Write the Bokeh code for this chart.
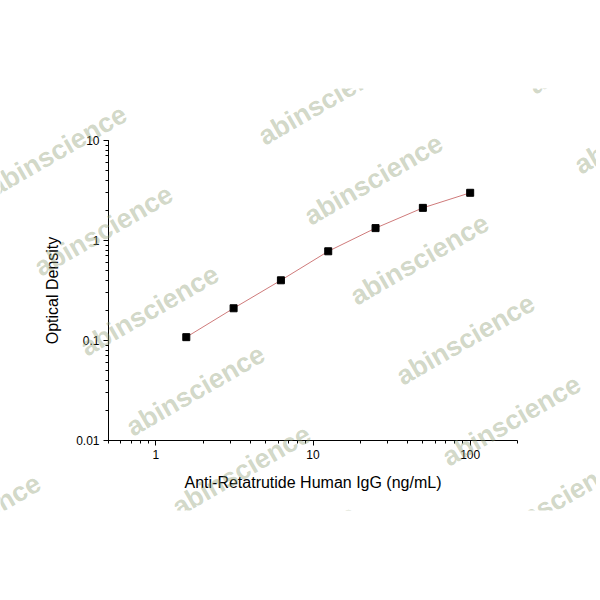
import math
from bokeh.plotting import figure
from bokeh.models import (Range1d, LogTicker, CustomJSTickFormatter, Label,
                          BoxAnnotation, ColumnDataSource)
from bokeh.embed import file_html
from bokeh.resources import INLINE

# ---- data ----
concentration = [1.5625, 3.125, 6.25, 12.5, 25, 50, 100]
optical_density = [0.108, 0.21, 0.40, 0.78, 1.33, 2.12, 3.0]

x_title = "Anti-Retatrutide Human IgG (ng/mL)"
y_title = "Optical Density"
watermark = "abinscience"

# axis extents (data units)
x_lo, x_hi = 0.5, 200
y_lo, y_hi = 0.01, 10

# ---- layout (pixels) ----
W, H = 596, 584
AX_L, AX_R = 108, 517     # where x_lo / x_hi land
AX_T, AX_B = 140, 440     # where y_hi / y_lo land

# watermark centres in canvas pixels (decoration, not data)
wm_centres = [(327, 99), (373, 179), (419, 259), (465, 339), (511, 420), (556, 500),
              (57, 150), (103, 230), (149, 310), (195, 390), (241, 470), (287, 550),
              (597, 48), (643, 128), (-29, 519)]

# the plotting frame covers the whole canvas; axes sit at fixed locations
pxd = (AX_R - AX_L) / math.log10(x_hi / x_lo)
pyd = (AX_B - AX_T) / math.log10(y_hi / y_lo)
xr = Range1d(10 ** (math.log10(x_lo) - AX_L / pxd), 10 ** (math.log10(x_hi) + (W - AX_R) / pxd))
yr = Range1d(10 ** (math.log10(y_lo) - (H - AX_B) / pyd), 10 ** (math.log10(y_hi) + AX_T / pyd))

p = figure(width=W, height=H, x_axis_type="log", y_axis_type="log",
           x_range=xr, y_range=yr,
           output_backend="svg", toolbar_location=None,
           min_border=0, min_border_left=0, min_border_right=0,
           min_border_top=0, min_border_bottom=0)
p.outline_line_color = None
p.xgrid.visible = False
p.ygrid.visible = False
p.background_fill_color = "white"
p.border_fill_color = "white"

src = ColumnDataSource(dict(x=concentration, y=optical_density))
p.line("x", "y", source=src, line_color="#cf7b7b", line_width=1)
p.scatter("x", "y", source=src, marker="square", size=7,
          fill_color="black", line_color="black")

# semi-transparent watermarks over the whole picture
for (cx, cy) in wm_centres:
    p.add_layout(Label(x=cx, y=cy, x_units="canvas", y_units="canvas",
                       text=watermark, angle=30, angle_units="deg",
                       text_align="center", text_baseline="middle",
                       text_font="Liberation Sans", text_font_style="bold",
                       text_font_size="27px", text_color="#8a9a70",
                       text_alpha=0.4, level="overlay"))
# the watermark band ends above and below
for (top, bottom) in ((0, 88), (510, H)):
    p.add_layout(BoxAnnotation(left=0, right=W, top=top, bottom=bottom,
                               left_units="canvas", right_units="canvas",
                               top_units="canvas", bottom_units="canvas",
                               fill_color="white", fill_alpha=1.0, line_color=None,
                               level="overlay"))

fmt = CustomJSTickFormatter(code="return String(tick);")
xa, ya = p.xaxis[0], p.yaxis[0]
xa.fixed_location = y_lo
xa.bounds = (x_lo, x_hi)
ya.fixed_location = x_lo
ya.bounds = (y_lo, y_hi)
for ax in (xa, ya):
    ax.ticker = LogTicker(num_minor_ticks=10)
    ax.formatter = fmt
    ax.axis_line_color = "black"
    ax.major_tick_line_color = "black"
    ax.minor_tick_line_color = "black"
    ax.major_tick_in = 0
    ax.major_tick_out = 5
    ax.minor_tick_in = 0
    ax.minor_tick_out = 3
    ax.major_label_text_font = "Liberation Sans"
    ax.major_label_text_font_size = "12px"
    ax.major_label_text_color = "black"
    ax.major_label_standoff = 4
    ax.axis_label_text_font = "Liberation Sans"
    ax.axis_label_text_font_size = "16px"
    ax.axis_label_text_font_style = "normal"
    ax.axis_label_text_color = "black"
    ax.axis_label_standoff = 12

xa.axis_label = x_title
ya.axis_label = y_title

open("out.html", "w").write(file_html(p, INLINE))
